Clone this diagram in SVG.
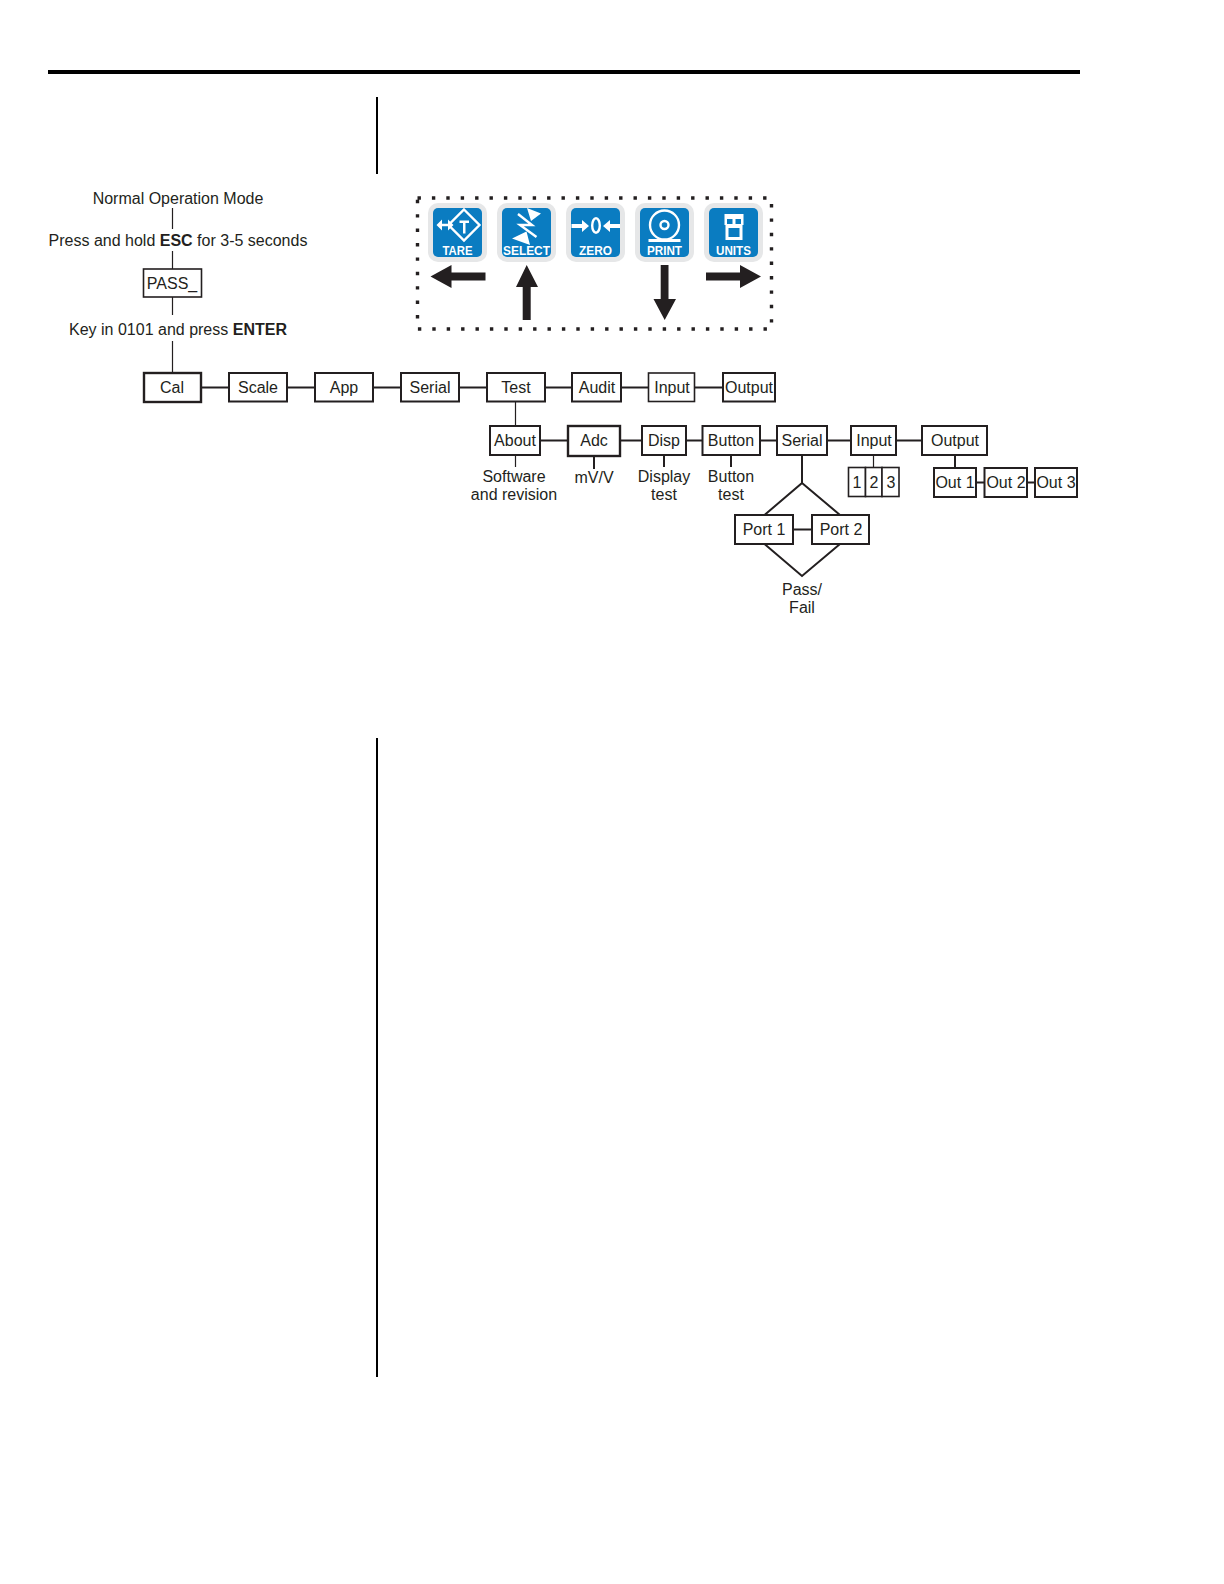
<svg xmlns="http://www.w3.org/2000/svg" width="1224" height="1584" viewBox="0 0 1224 1584">
<style>
text{font-family:"Liberation Sans",Arial,sans-serif;font-size:16px;fill:#231f20;text-anchor:middle}
.b{font-weight:bold}
.n{fill:#fff;stroke:#231f20;stroke-width:2}
.t{stroke-width:1.600}
.m{stroke-width:2.400}
.c{stroke:#231f20;stroke-width:2;fill:none}
.f{stroke:#231f20;stroke-width:1.200;fill:none}
.ar{fill:#231f20}
.o{fill:#e6e7e8}
.k{fill:#0a7cc1}
.w{fill:#fff}
.ws{stroke:#fff;stroke-width:2.400;fill:none}
.lb{font-size:13px;font-weight:bold;fill:#fff}
</style>
<g id="page-rules">
<rect x="48" y="70" width="1032" height="4" fill="#000"/>
<rect x="376" y="97" width="2" height="77" fill="#000"/>
<rect x="376" y="738" width="2" height="639" fill="#000"/>
</g>
<g id="connectors">
<path class="f" d="M172.500 208V229M172.500 251V269M172.500 297V315M172.500 341V373"/>
<path class="c" d="M201 387.500H229M287 387.500H315M373 387.500H401M459 387.500H487M545 387.500H572M621 387.500H649M694 387.500H722"/>
<path class="f" d="M515.500 401V426M515.500 455V467"/>
<path class="c" d="M540 440.500H568M620 440.500H642M686 440.500H702M760 440.500H777M827 440.500H851M896 440.500H922"/>
<path class="c" d="M594 456V469M664 455V467M731 455V467"/>
<path class="f" d="M873.500 455V467"/>
<path class="c" d="M955 455V468M976 482.500H984M1027 482.500H1035"/>
<path class="c" d="M802 455V483L764.500 515M802 483L840 515M793 529.500H812M764.500 544L802 576L840 544"/>
</g>
<g id="dotted-frame"><rect x="417.500" y="198" width="354" height="131" fill="none" stroke="#231f20" stroke-width="3.400" stroke-dasharray="3.400 11"/></g>
<g id="n-normal"><text x="178" y="204">Normal Operation Mode</text></g>
<g id="n-press"><text x="178" y="246">Press and hold <tspan class="b">ESC</tspan> for 3-5 seconds</text></g>
<g id="n-pass"><rect class="n t" x="143.500" y="269" width="58" height="28"/><text x="172" y="289">PASS_</text></g>
<g id="n-key"><text x="178" y="335">Key in 0101 and press <tspan class="b">ENTER</tspan></text></g>
<g id="n-cal"><rect class="n m" x="144" y="373" width="57" height="29"/><text x="172" y="393">Cal</text></g>
<g id="n-scale"><rect class="n" x="229" y="373" width="58" height="28.500"/><text x="258" y="393">Scale</text></g>
<g id="n-app"><rect class="n" x="315" y="373" width="58" height="28.500"/><text x="344" y="393">App</text></g>
<g id="n-serial"><rect class="n" x="401" y="373" width="58" height="28.500"/><text x="430" y="393">Serial</text></g>
<g id="n-test"><rect class="n" x="487" y="373" width="58" height="28.500"/><text x="516" y="393">Test</text></g>
<g id="n-audit"><rect class="n" x="572" y="373" width="49" height="28.500"/><text x="597" y="393">Audit</text></g>
<g id="n-input"><rect class="n t" x="648.500" y="373" width="46" height="28.500"/><text x="672" y="393">Input</text></g>
<g id="n-output"><rect class="n" x="723" y="373" width="52" height="28.500"/><text x="749" y="393">Output</text></g>
<g id="n-about"><rect class="n" x="490" y="426" width="50" height="29"/><text x="515" y="446">About</text></g>
<g id="n-adc"><rect class="n m" x="568" y="426" width="52" height="30"/><text x="594" y="446">Adc</text></g>
<g id="n-disp"><rect class="n" x="642" y="426" width="44" height="29"/><text x="664" y="446">Disp</text></g>
<g id="n-button"><rect class="n" x="702.500" y="426" width="57.500" height="29"/><text x="731" y="446">Button</text></g>
<g id="n-serial2"><rect class="n" x="777" y="426" width="50" height="29"/><text x="802" y="446">Serial</text></g>
<g id="n-input2"><rect class="n" x="851" y="426" width="45" height="29"/><text x="874" y="446">Input</text></g>
<g id="n-output2"><rect class="n" x="922" y="426" width="65" height="29"/><text x="955" y="446">Output</text></g>
<g id="n-software"><text x="514" y="482">Software</text><text x="514" y="500">and revision</text></g>
<g id="n-mvv"><text x="594" y="483">mV/V</text></g>
<g id="n-display"><text x="664" y="482">Display</text><text x="664" y="500">test</text></g>
<g id="n-buttontest"><text x="731" y="482">Button</text><text x="731" y="500">test</text></g>
<g id="n-1"><rect class="n t" x="848.500" y="467.500" width="17" height="29"/><text x="857" y="488">1</text></g>
<g id="n-2"><rect class="n t" x="865.500" y="467.500" width="16.500" height="29"/><text x="874" y="488">2</text></g>
<g id="n-3"><rect class="n t" x="882" y="467.500" width="17" height="29"/><text x="891" y="488">3</text></g>
<g id="n-out1"><rect class="n" x="934" y="468" width="42" height="29"/><text x="955" y="488">Out 1</text></g>
<g id="n-out2"><rect class="n" x="984.500" y="468" width="42.500" height="29"/><text x="1006" y="488">Out 2</text></g>
<g id="n-out3"><rect class="n" x="1035" y="468" width="42" height="29"/><text x="1056" y="488">Out 3</text></g>
<g id="n-port1"><rect class="n" x="735" y="515" width="58" height="29"/><text x="764" y="535">Port 1</text></g>
<g id="n-port2"><rect class="n" x="812" y="515" width="57" height="29"/><text x="841" y="535">Port 2</text></g>
<g id="n-passfail"><text x="802" y="595">Pass/</text><text x="802" y="613">Fail</text></g>
<g id="btn-tare">
<rect class="o" x="428" y="203" width="59" height="59" rx="10"/><rect class="k" x="433" y="208" width="49" height="49" rx="5"/>
<path class="ws" d="M464 209.500L479.500 225L464 240.500L448.500 225Z"/>
<path class="w" d="M459.500 220.500h9.500v2.400h-3.500v10.500h-2.500v-10.500h-3.500Z"/>
<path class="w" d="M436.500 225L442 219.500V223.800H448V219.500L453.500 225L448 230.500V226.200H442V230.500Z"/>
<text class="lb" x="457.500" y="255" textLength="30" lengthAdjust="spacingAndGlyphs">TARE</text>
</g>
<g id="btn-select">
<rect class="o" x="497" y="203" width="59" height="59" rx="10"/><rect class="k" x="502" y="208" width="49" height="49" rx="5"/>
<path class="w" d="M527 208L541 213.500L531 221ZM512 238.500L526.500 231.500L530 245Z"/>
<path class="ws" d="M518 214L532 225H520L536.500 237" stroke-width="1.600"/>
<text class="lb" x="526.500" y="255" textLength="47" lengthAdjust="spacingAndGlyphs">SELECT</text>
</g>
<g id="btn-zero">
<rect class="o" x="566" y="203" width="59" height="59" rx="10"/><rect class="k" x="571" y="208" width="49" height="49" rx="5"/>
<path class="w" d="M571.500 224H582V220L589 226L582 232V228H571.500ZM620 224H610V220L603 226L610 232V228H620Z"/>
<ellipse class="ws" cx="596" cy="225.500" rx="3.800" ry="7.300" stroke-width="3"/>
<text class="lb" x="595.500" y="255" textLength="33" lengthAdjust="spacingAndGlyphs">ZERO</text>
</g>
<g id="btn-print">
<rect class="o" x="635" y="203" width="59" height="59" rx="10"/><rect class="k" x="640" y="208" width="49" height="49" rx="5"/>
<circle class="ws" cx="664.500" cy="225" r="14.500" stroke-width="3"/><circle class="ws" cx="664.500" cy="225" r="4" stroke-width="2"/>
<rect class="w" x="648.500" y="239" width="32" height="3"/>
<text class="lb" x="664.500" y="255" textLength="35" lengthAdjust="spacingAndGlyphs">PRINT</text>
</g>
<g id="btn-units">
<rect class="o" x="704" y="203" width="59" height="59" rx="10"/><rect class="k" x="709" y="208" width="49" height="49" rx="5"/>
<path class="w" fill-rule="evenodd" d="M724.500 214H743.500V225H742.500V240H725.500V225H724.500ZM727 219V224H732.500V219ZM735.500 219V224H741V219ZM728.500 228V237H739.500V228Z"/>
<text class="lb" x="733.500" y="255" textLength="35" lengthAdjust="spacingAndGlyphs">UNITS</text>
</g>
<g id="nav-arrows">
<path class="ar" d="M430.500 276.500L451.500 265V272.500H485.500V280.500H451.500V288Z"/>
<path class="ar" d="M526.700 265L538 287H530.700V320H522.700V287H516Z"/>
<path class="ar" d="M664.700 320L653.500 299H660.700V265H668.500V299H676Z"/>
<path class="ar" d="M761 276.500L740 265V272.500H706V280.500H740V288Z"/>
</g>
</svg>
